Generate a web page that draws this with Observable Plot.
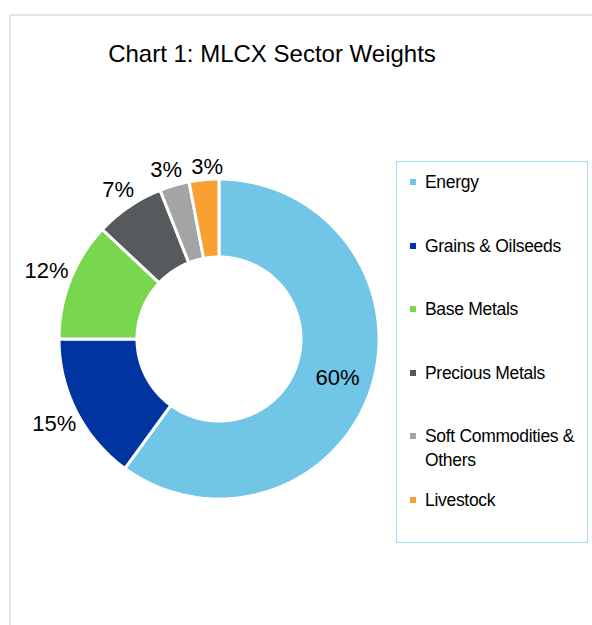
<!DOCTYPE html>
<html>
<head>
<meta charset="utf-8">
<script src="https://cdn.jsdelivr.net/npm/d3@7"></script>
<script src="https://cdn.jsdelivr.net/npm/@observablehq/plot@0.6"></script>
<style>
  html, body { margin: 0; padding: 0; background: #fff; overflow: hidden; }
  body { font-family: "Liberation Sans", Arial, sans-serif; color: #000; }
  #wrap { position: relative; width: 592px; height: 625px; overflow: hidden; }
  #frame { position: absolute; left: 9px; top: 14px; width: 640px; height: 700px; border: 2px solid #e4e4e4; box-sizing: border-box; }
  #title { position: absolute; left: 0; top: 40px; width: 544px; text-align: center; font-size: 24px; line-height: 28px; white-space: nowrap; }
  #chart { position: absolute; left: 0; top: 0; }
  #legend { position: absolute; left: 396px; top: 161px; width: 192px; height: 382px; border: 1px solid #a6dcec; box-sizing: border-box; }
  .item { position: absolute; left: 0; font-size: 17.5px; line-height: 24px; white-space: nowrap; letter-spacing: -0.3px; }
  .sw { position: absolute; left: 13px; top: 9px; width: 6px; height: 6px; }
  .lab { position: absolute; left: 28px; top: 0; }
</style>
</head>
<body>
<div id="wrap">
  <div id="frame"></div>
  <div id="chart"></div>
  <div id="title">Chart 1: MLCX Sector Weights</div>
  <div id="legend"></div>
</div>
<script>
// ---- data ----
const sectors = ["Energy", "Grains & Oilseeds", "Base Metals", "Precious Metals", "Soft Commodities & Others", "Livestock"];
const weights = [60, 15, 12, 7, 3, 3];
const labels = ["60%", "15%", "12%", "7%", "3%", "3%"];
const colors = ["#71C5E6", "#0034A1", "#78D64F", "#565A5D", "#A3A5A5", "#F8A032"];
const legendLines = [["Energy"], ["Grains & Oilseeds"], ["Base Metals"], ["Precious Metals"], ["Soft Commodities &", "Others"], ["Livestock"]];

// ---- geometry (layout) ----
const W = 592, H = 625;
const cx = 219, cy = 339;       // donut centre in pixels
const R = 160, r0 = 82;         // outer / inner radius

const total = d3.sum(weights);
const slices = [];
let acc = 0;
weights.forEach((w, i) => {
  const a0 = acc / total * 2 * Math.PI;
  acc += w;
  const a1 = acc / total * 2 * Math.PI;
  slices.push({sector: sectors[i], value: w, label: labels[i], a0, a1, mid: (a0 + a1) / 2});
});

// ring-segment outlines (sampled along the arcs)
const ring = [];
for (const s of slices) {
  const n = Math.max(4, Math.ceil((s.a1 - s.a0) / (Math.PI / 180)));
  for (let k = 0; k <= n; k++) {
    const t = s.a0 + (s.a1 - s.a0) * k / n;
    ring.push({sector: s.sector,
      xi: r0 * Math.sin(t), yi: -r0 * Math.cos(t),
      xo: R * Math.sin(t), yo: -R * Math.cos(t)});
  }
}

// label anchor points: big slice inside the ring, others outside
const labelPts = slices.map(s => {
  const inside = s.value >= 30;
  const rl = inside ? (R + r0) / 2 + 3 : 172 + 15 * Math.abs(Math.sin(s.mid));
  return {text: s.label, inside, w: s.label.length * 11.5,
          x: rl * Math.sin(s.mid), y: -rl * Math.cos(s.mid)};
});
// simple collision avoidance between neighbouring outside labels (push apart horizontally)
const outside = labelPts.filter(d => !d.inside);
for (let iter = 0; iter < 20; iter++) {
  for (let i = 0; i < outside.length - 1; i++) {
    const a = outside[i], b = outside[i + 1];
    if (Math.abs(a.y - b.y) > 22) continue;
    const need = (a.w + b.w) / 2 + 18;
    const gap = Math.abs(b.x - a.x);
    if (gap < need) {
      const push = (need - gap) / 2;
      const s = b.x >= a.x ? 1 : -1;
      a.x -= s * push; b.x += s * push;
    }
  }
}

const chart = Plot.plot({
  width: W,
  height: H,
  margin: 0,
  style: {background: "transparent", overflow: "visible"},
  x: {domain: [-cx, W - cx], range: [0, W], axis: null},
  y: {domain: [-cy, H - cy], range: [0, H], axis: null},
  color: {domain: sectors, range: colors},
  marks: [
    Plot.area(ring, {x1: "xi", y1: "yi", x2: "xo", y2: "yo", z: "sector", fill: "sector",
      stroke: "white", strokeWidth: 3, strokeLinejoin: "miter", curve: "linear"}),
    Plot.text(labelPts, {x: "x", y: "y", text: "text", fontSize: 22, fill: "#000",
      fontFamily: "Liberation Sans, Arial, sans-serif", textAnchor: "middle", lineAnchor: "middle"})
  ]
});
document.getElementById("chart").appendChild(chart);

// ---- legend ----
const legend = document.getElementById("legend");
const firstLineY = [182, 245.6, 309.2, 372.8, 436.4, 500];   // line centres, page px
sectors.forEach((s, i) => {
  const item = document.createElement("div");
  item.className = "item";
  item.style.top = (firstLineY[i] - 161 - 1 - 12) + "px";
  const sw = document.createElement("div");
  sw.className = "sw";
  sw.style.background = colors[i];
  const lab = document.createElement("div");
  lab.className = "lab";
  lab.innerHTML = legendLines[i].map(t => t.replace(/&/g, "&amp;")).join("<br>");
  item.appendChild(sw);
  item.appendChild(lab);
  legend.appendChild(item);
});
</script>
</body>
</html>
